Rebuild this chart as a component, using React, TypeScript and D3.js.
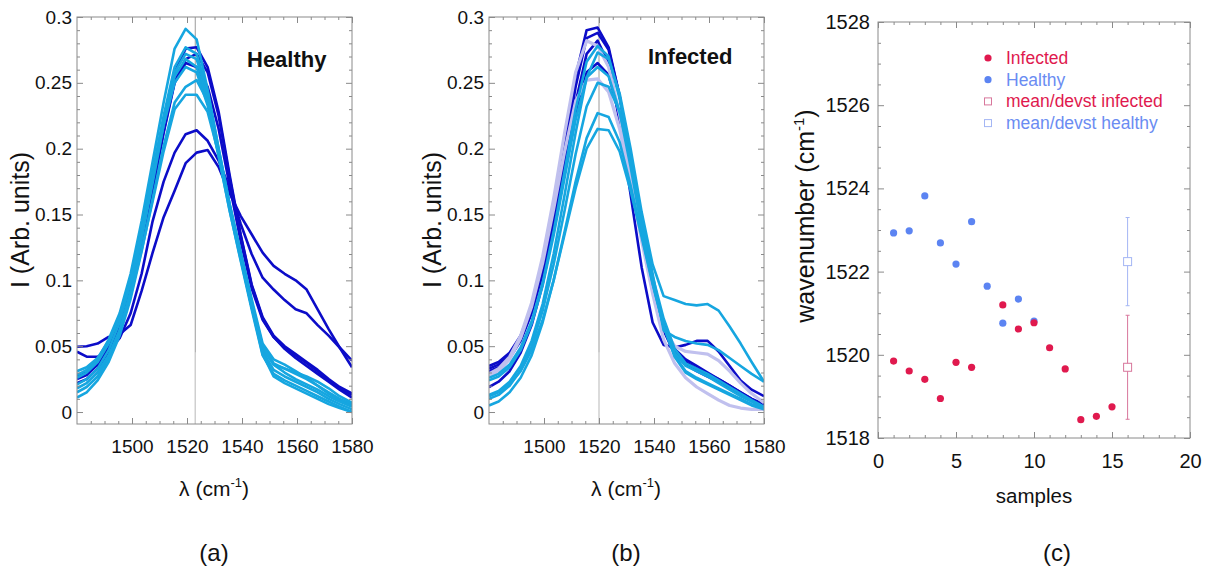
import React, { useEffect, useRef } from 'react';
import * as d3 from 'd3';

// wavenumber grid of the spectra (cm-1)
const wavenumbers = [1480, 1483.5, 1487.5, 1491.5, 1495.5, 1499.5, 1503.5, 1507.5, 1511.5, 1515.5, 1519.5, 1523.5, 1527.5,
  1531.5, 1535.5, 1539.5, 1543.5, 1547.5, 1551.5, 1555.5, 1559.5, 1563.5, 1567.5, 1571.5, 1575.5, 1580];

// (a) healthy spectra
const healthyDark = [
  [0.025,0.028,0.036,0.050,0.070,0.098,0.134,0.175,0.218,0.258,0.276,0.277,0.262,0.228,0.180,0.135,0.097,0.072,0.058,0.050,0.044,0.038,0.032,0.025,0.019,0.014],
  [0.022,0.025,0.033,0.046,0.065,0.092,0.127,0.168,0.212,0.250,0.265,0.262,0.247,0.215,0.172,0.130,0.094,0.070,0.057,0.049,0.043,0.037,0.031,0.024,0.018,0.013],
  [0.0458,0.042,0.042,0.046,0.056,0.075,0.105,0.145,0.175,0.197,0.211,0.214,0.206,0.191,0.170,0.143,0.120,0.102,0.093,0.085,0.078,0.075,0.066,0.058,0.049,0.039],
  [0.0496,0.050,0.052,0.057,0.059,0.066,0.092,0.121,0.148,0.168,0.189,0.197,0.199,0.186,0.166,0.149,0.135,0.121,0.111,0.105,0.100,0.093,0.078,0.063,0.049,0.034],
  [0.028,0.030,0.037,0.050,0.069,0.096,0.131,0.171,0.213,0.251,0.268,0.272,0.258,0.225,0.178,0.134,0.096,0.071,0.057,0.048,0.041,0.035,0.029,0.023,0.017,0.011],
];
const healthyLight = [
  [0.028,0.032,0.040,0.055,0.075,0.105,0.145,0.190,0.235,0.276,0.291,0.283,0.245,0.200,0.158,0.122,0.086,0.052,0.040,0.036,0.031,0.026,0.020,0.014,0.009,0.005],
  [0.031,0.034,0.041,0.054,0.073,0.102,0.140,0.182,0.225,0.262,0.277,0.272,0.243,0.200,0.158,0.120,0.084,0.050,0.037,0.033,0.029,0.025,0.020,0.015,0.010,0.006],
  [0.021,0.025,0.033,0.047,0.068,0.098,0.137,0.180,0.222,0.258,0.272,0.268,0.240,0.198,0.156,0.118,0.080,0.046,0.032,0.027,0.023,0.019,0.015,0.010,0.006,0.002],
  [0.015,0.019,0.027,0.041,0.062,0.092,0.131,0.174,0.218,0.255,0.268,0.262,0.236,0.195,0.153,0.115,0.078,0.043,0.029,0.024,0.020,0.016,0.012,0.008,0.004,0.000],
  [0.026,0.030,0.038,0.052,0.072,0.100,0.137,0.178,0.218,0.250,0.262,0.258,0.233,0.194,0.153,0.116,0.080,0.048,0.036,0.033,0.030,0.027,0.023,0.018,0.012,0.007],
  [0.011,0.015,0.024,0.038,0.058,0.086,0.122,0.162,0.202,0.235,0.247,0.252,0.236,0.198,0.156,0.118,0.080,0.044,0.027,0.022,0.018,0.014,0.010,0.006,0.003,0.000],
  [0.018,0.022,0.030,0.043,0.062,0.089,0.123,0.160,0.198,0.230,0.241,0.241,0.228,0.196,0.157,0.119,0.083,0.050,0.036,0.030,0.025,0.021,0.017,0.012,0.008,0.004],
];

// (b) infected spectra
const infectedDark = [
  [0.035,0.038,0.045,0.058,0.080,0.112,0.155,0.205,0.255,0.290,0.292,0.277,0.240,0.190,0.140,0.097,0.066,0.048,0.040,0.035,0.030,0.025,0.020,0.015,0.010,0.006],
  [0.031,0.034,0.041,0.054,0.075,0.106,0.148,0.197,0.247,0.284,0.288,0.275,0.240,0.192,0.143,0.100,0.068,0.047,0.038,0.033,0.029,0.025,0.020,0.015,0.010,0.005],
  [0.019,0.023,0.031,0.045,0.066,0.097,0.138,0.186,0.235,0.272,0.282,0.265,0.220,0.165,0.110,0.068,0.051,0.049,0.051,0.054,0.054,0.046,0.035,0.024,0.017,0.012],
  [0.033,0.036,0.043,0.056,0.076,0.105,0.143,0.188,0.228,0.258,0.265,0.256,0.225,0.180,0.133,0.092,0.062,0.044,0.036,0.031,0.027,0.023,0.018,0.013,0.009,0.005],
];
const infectedLight = [
  [0.026,0.029,0.036,0.049,0.069,0.098,0.137,0.183,0.230,0.266,0.278,0.270,0.238,0.192,0.145,0.103,0.071,0.048,0.037,0.033,0.029,0.024,0.019,0.014,0.009,0.004],
  [0.013,0.016,0.023,0.035,0.054,0.082,0.120,0.165,0.212,0.254,0.273,0.268,0.242,0.200,0.152,0.112,0.088,0.085,0.082,0.081,0.082,0.077,0.065,0.052,0.038,0.023],
  [0.010,0.013,0.020,0.032,0.050,0.077,0.112,0.153,0.196,0.232,0.250,0.247,0.228,0.192,0.148,0.105,0.062,0.057,0.054,0.052,0.051,0.047,0.041,0.035,0.029,0.023],
  [0.005,0.008,0.015,0.026,0.043,0.068,0.100,0.137,0.175,0.208,0.227,0.224,0.205,0.172,0.135,0.098,0.065,0.042,0.030,0.025,0.021,0.017,0.013,0.009,0.005,0.002],
  [0.012,0.015,0.021,0.031,0.047,0.070,0.100,0.135,0.170,0.200,0.215,0.214,0.198,0.168,0.133,0.097,0.065,0.043,0.031,0.026,0.022,0.018,0.014,0.010,0.006,0.003],
  [0.024,0.027,0.034,0.047,0.067,0.096,0.134,0.178,0.222,0.254,0.262,0.255,0.228,0.186,0.140,0.099,0.066,0.045,0.035,0.031,0.027,0.022,0.017,0.012,0.008,0.003],
];
const infectedLavender = [
  [0.029,0.033,0.042,0.058,0.083,0.118,0.162,0.212,0.258,0.282,0.278,0.262,0.226,0.180,0.133,0.093,0.064,0.050,0.046,0.045,0.044,0.039,0.031,0.022,0.014,0.007],
  [0.027,0.031,0.040,0.056,0.080,0.113,0.154,0.198,0.236,0.252,0.253,0.243,0.215,0.175,0.130,0.090,0.055,0.037,0.026,0.019,0.014,0.009,0.005,0.003,0.002,0.002],
];

const healthyPeakLine = 1523;
const infectedPeakLine = 1520;

const spectrumXTicks = [1500, 1520, 1540, 1560, 1580];
const spectrumYTicks = [0, 0.05, 0.1, 0.15, 0.2, 0.25, 0.3];

// (c) peak position per sample
const healthySamples = [1, 2, 3, 4, 5, 6, 7, 8, 9, 10];
const healthyWavenumber = [1522.93, 1522.98, 1523.82, 1522.69, 1522.18, 1523.2, 1521.65, 1520.76, 1521.34, 1520.81];
const infectedSamples = [1, 2, 3, 4, 5, 6, 8, 9, 10, 11, 12, 13, 14, 15];
const infectedWavenumber = [1519.85, 1519.61, 1519.41, 1518.95, 1519.82, 1519.7, 1521.2, 1520.62, 1520.77, 1520.17, 1519.66, 1518.44, 1518.52, 1518.75];
const meanSample = 16;
const healthyMean = 1522.24;
const healthyDev = 1.06;
const infectedMean = 1519.7;
const infectedDev = 1.25;

const sampleTicks = [0, 5, 10, 15, 20];
const wavenumberTicks = [1518, 1520, 1522, 1524, 1526, 1528];

const FONT = '"Liberation Sans", Arial, Helvetica, sans-serif';
const GREY = '#8a8a8a';
const DARK = '#0c0cc8';
const LIGHT = '#16a6e0';
const LAVENDER = '#c0c0ee';
const RED = '#e0194e';
const BLUE = '#5c84f2';

function frame(g, x, y, o) {
  const [xa, xb] = x.range();
  const [yb, ya] = y.range();
  const put = (axis, tr, fs) => g.append('g').attr('transform', tr).call(axis).call(s => {
    s.select('.domain').remove();
    s.selectAll('line').attr('stroke', GREY);
    s.selectAll('text').attr('fill', '#111').style('font-family', FONT).style('font-size', fs + 'px');
  });
  const none = () => '';
  put(d3.axisBottom(x).tickValues(o.xMinor).tickSize(-3).tickFormat(none), `translate(0,${yb})`, 1);
  put(d3.axisTop(x).tickValues(o.xMinor).tickSize(-3).tickFormat(none), `translate(0,${ya})`, 1);
  put(d3.axisLeft(y).tickValues(o.yMinor).tickSize(-3).tickFormat(none), `translate(${xa},0)`, 1);
  put(d3.axisRight(y).tickValues(o.yMinor).tickSize(-3).tickFormat(none), `translate(${xb},0)`, 1);
  put(d3.axisBottom(x).tickValues(o.xTicks).tickSize(-6).tickPadding(o.xPad).tickFormat(o.xFmt), `translate(0,${yb})`, o.fs);
  put(d3.axisTop(x).tickValues(o.xTicks).tickSize(-6).tickFormat(none), `translate(0,${ya})`, 1);
  put(d3.axisLeft(y).tickValues(o.yTicks).tickSize(-6).tickPadding(o.yPad).tickFormat(o.yFmt), `translate(${xa},0)`, o.fs);
  put(d3.axisRight(y).tickValues(o.yTicks).tickSize(-6).tickFormat(none), `translate(${xb},0)`, 1);
  g.append('rect').attr('x', xa).attr('y', ya).attr('width', xb - xa).attr('height', yb - ya)
    .attr('fill', 'none').attr('stroke', GREY).attr('stroke-width', 1);
}

// label with a "cm-1" unit, superscript as a raised tspan
function cmLabel(g, txt, x, y, rotate, fs) {
  const t = g.append('text').attr('text-anchor', 'middle').style('font-family', FONT).style('font-size', fs + 'px').attr('fill', '#111')
    .attr('transform', rotate ? `translate(${x},${y}) rotate(-90)` : `translate(${x},${y})`);
  t.append('tspan').text(txt + ' (cm');
  t.append('tspan').attr('dy', -fs * 0.42).style('font-size', Math.round(fs * 0.6) + 'px').text('-1');
  t.append('tspan').attr('dy', fs * 0.42).text(')');
}

function spectrum(svg, x0, groups, peak, title, titleX, titleY) {
  const x = d3.scaleLinear().domain([1480, 1580]).range([x0, x0 + 275]);
  const y = d3.scaleLinear().domain([-0.0091, 0.3]).range([424, 17]);
  const g = svg.append('g');
  const id = 'clip' + Math.round(x0);
  g.append('clipPath').attr('id', id).append('rect').attr('x', x0).attr('y', 17).attr('width', 275).attr('height', 407);

  g.append('line').attr('x1', x(peak)).attr('x2', x(peak)).attr('y1', y(0.3)).attr('y2', y(0.045)).attr('stroke', '#9a9a9a');
  g.append('line').attr('x1', x(peak)).attr('x2', x(peak)).attr('y1', y(0.045)).attr('y2', y(-0.0091)).attr('stroke', '#cfcfcf').attr('stroke-width', 1.5);

  const line = d3.line().x((_, i) => x(wavenumbers[i])).y(d => y(d));
  const lines = g.append('g').attr('clip-path', `url(#${id})`);
  groups.forEach(([rows, color, w]) => {
    rows.forEach(r => lines.append('path').attr('d', line(r)).attr('fill', 'none')
      .attr('stroke', color).attr('stroke-width', w).attr('stroke-linejoin', 'round'));
  });

  frame(g, x, y, {
    xTicks: spectrumXTicks, xMinor: d3.range(1485, 1580, 5).filter(v => v % 20 !== 0),
    yTicks: spectrumYTicks, yMinor: d3.range(1, 30).map(v => v / 100).filter(v => Math.round(v * 100) % 5 !== 0),
    xFmt: d3.format('d'), yFmt: d => String(d), xPad: 16, yPad: 5, fs: 19,
  });

  g.append('text').attr('x', titleX).attr('y', titleY).text(title)
    .style('font-family', FONT).style('font-size', '22px').style('font-weight', 'bold').attr('fill', '#111');
  g.append('text').attr('text-anchor', 'middle').attr('transform', `translate(${x0 - 48},220) rotate(-90)`)
    .style('font-family', FONT).style('font-size', '25px').attr('fill', '#111').text('I (Arb. units)');
  cmLabel(g, 'λ', x0 + 137, 496, false, 21);
}

function scatter(svg) {
  const x = d3.scaleLinear().domain([0, 20]).range([878, 1190]);
  const y = d3.scaleLinear().domain([1518, 1528]).range([438, 22]);
  const g = svg.append('g');
  frame(g, x, y, {
    xTicks: sampleTicks, xMinor: d3.range(1, 20).filter(v => v % 5 !== 0),
    yTicks: wavenumberTicks, yMinor: d3.range(1518.5, 1528, 0.5).filter(v => v % 2 !== 0),
    xFmt: d3.format('d'), yFmt: d3.format('d'), xPad: 16, yPad: 8, fs: 20,
  });

  const bar = (m, dev, color) => {
    const cx = x(meanSample);
    g.append('line').attr('x1', cx).attr('x2', cx).attr('y1', y(m + dev)).attr('y2', y(m - dev)).attr('stroke', color);
    [m + dev, m - dev].forEach(v => g.append('line').attr('x1', cx - 2).attr('x2', cx + 2).attr('y1', y(v)).attr('y2', y(v)).attr('stroke', color));
    g.append('rect').attr('x', cx - 4).attr('y', y(m) - 4).attr('width', 8).attr('height', 8).attr('fill', 'white').attr('stroke', color);
  };
  bar(healthyMean, healthyDev, '#a4b6f4');
  bar(infectedMean, infectedDev, '#d8779c');

  g.selectAll('.h').data(healthySamples).enter().append('circle')
    .attr('cx', d => x(d)).attr('cy', (_, i) => y(healthyWavenumber[i])).attr('r', 3.6).attr('fill', BLUE);
  g.selectAll('.i').data(infectedSamples).enter().append('circle')
    .attr('cx', d => x(d)).attr('cy', (_, i) => y(infectedWavenumber[i])).attr('r', 3.6).attr('fill', RED);

  const legend = [
    ['Infected', RED, 'dot', RED],
    ['Healthy', BLUE, 'dot', '#6a8cf2'],
    ['mean/devst infected', '#d8779c', 'sq', RED],
    ['mean/devst healthy', '#a4b6f4', 'sq', '#6a8cf2'],
  ];
  legend.forEach(([name, mc, kind, tc], i) => {
    const cy = 58 + i * 21.7;
    if (kind === 'dot') g.append('circle').attr('cx', 988).attr('cy', cy).attr('r', 3.6).attr('fill', mc);
    else g.append('rect').attr('x', 984.5).attr('y', cy - 3.5).attr('width', 7).attr('height', 7).attr('fill', 'none').attr('stroke', mc);
    g.append('text').attr('x', 1006).attr('y', cy + 6).text(name).attr('fill', tc)
      .style('font-family', FONT).style('font-size', '17.5px');
  });

  g.append('text').attr('x', 1034).attr('y', 503).attr('text-anchor', 'middle').text('samples')
    .style('font-family', FONT).style('font-size', '20.5px').attr('fill', '#111');
  cmLabel(g, 'wavenumber', 814, 216, true, 25);
}

export default function App() {
  const ref = useRef(null);
  useEffect(() => {
    const svg = d3.select(ref.current);
    svg.selectAll('*').remove();
    spectrum(svg, 77, [[healthyDark, DARK, 2.6], [healthyLight, LIGHT, 2.6]], healthyPeakLine, 'Healthy', 247, 67);
    spectrum(svg, 489, [[infectedDark, DARK, 2.6], [infectedLavender, LAVENDER, 3.2], [infectedLight, LIGHT, 2.6]], infectedPeakLine, 'Infected', 648, 64);
    scatter(svg);
    [['(a)', 214], ['(b)', 626], ['(c)', 1057]].forEach(([s, cx]) => svg.append('text').attr('x', cx).attr('y', 561)
      .attr('text-anchor', 'middle').text(s).style('font-family', FONT).style('font-size', '24px').attr('fill', '#111'));
  }, []);
  return <svg ref={ref} width={1207} height={576} style={{ position: 'absolute', left: 0, top: 0, background: 'white' }} />;
}
